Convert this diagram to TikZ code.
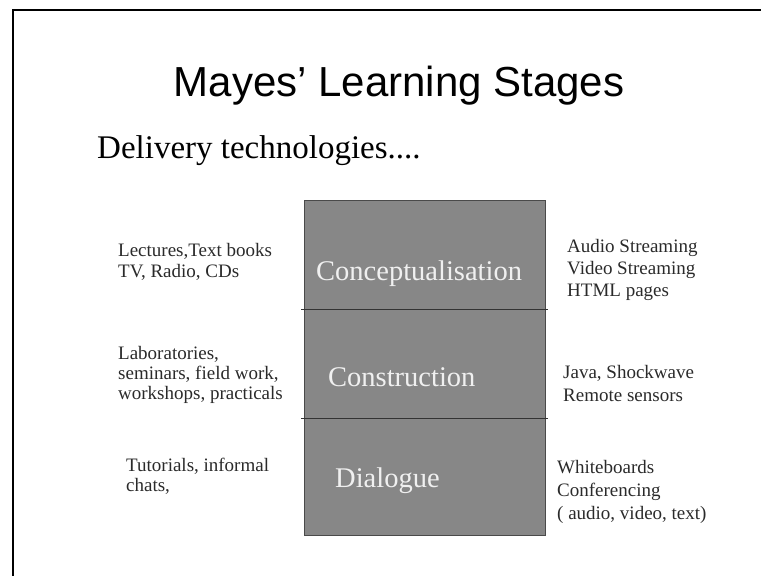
\documentclass[tikz,border=0pt]{standalone}
\usepackage{fontspec}
\setmainfont{Liberation Serif}
\newfontfamily\titlefont{Liberation Sans}
\definecolor{boxfill}{HTML}{878787}
\definecolor{boxline}{HTML}{4A4A4A}
\definecolor{boxtext}{HTML}{F0F0F0}
\definecolor{listtext}{HTML}{2A2A2A}
\tikzset{
  lbl/.style={anchor=base west, inner sep=0pt, text=listtext, font=\fontsize{19}{22}\selectfont},
  stagelbl/.style={anchor=base west, inner sep=0pt, text=boxtext, font=\fontsize{28.5}{32}\selectfont},
  frameline/.style={line width=2pt, black},
  divider/.style={line width=1pt, draw=black!80}
}
\begin{document}
\begin{tikzpicture}[x=1pt,y=1pt]
\useasboundingbox (0,0) rectangle (761,576);
% frame
\coordinate (fc) at (13,566);
\coordinate (fb) at (13,0);
\coordinate (fr) at (761,566);
\draw[frameline] (fb) -- (fc) -- (fr);
% title
\node[anchor=base, inner sep=0pt, font=\titlefont\fontsize{42}{48}\selectfont] (title) at (399,479) {Mayes’ Learning Stages};
\node[anchor=base west, inner sep=0pt, font=\fontsize{33}{38}\selectfont] (sub) at (97,417) {Delivery technologies....};
% box
\path[fill=boxfill, draw=boxline, line width=0.8pt] (304,376) rectangle (545,41);
\coordinate (d1l) at (301,266);
\coordinate (d1r) at (548,266);
\coordinate (d2l) at (301,157);
\coordinate (d2r) at (548,157);
\draw[divider] (d1l) -- (d1r);
\draw[divider] (d2l) -- (d2r);
\node[stagelbl] (s1) at (316,295) {Conceptualisation};
\node[stagelbl] (s2) at (328,189) {Construction};
\node[stagelbl] (s3) at (335,88) {Dialogue};
% left
\node[lbl] (l1) at (118,319) {Lectures,Text books};
\node[lbl] (l2) at (118,298) {TV, Radio, CDs};
\node[lbl] (l3) at (118,216) {Laboratories,};
\node[lbl] (l4) at (118,196) {seminars, field work,};
\node[lbl] (l5) at (118,176) {workshops, practicals};
\node[lbl] (l6) at (126,104) {Tutorials, informal};
\node[lbl] (l7) at (126,84) {chats,};
% right
\node[lbl] (r1) at (567,323) {Audio Streaming};
\node[lbl] (r2) at (567,301) {Video Streaming};
\node[lbl] (r3) at (567,279) {HTML pages};
\node[lbl] (r4) at (563,197) {Java, Shockwave};
\node[lbl] (r5) at (563,174) {Remote sensors};
\node[lbl] (r6) at (557,102) {Whiteboards};
\node[lbl] (r7) at (557,79) {Conferencing};
\node[lbl] (r8) at (557,56) {( audio, video, text)};
\end{tikzpicture}
\end{document}
